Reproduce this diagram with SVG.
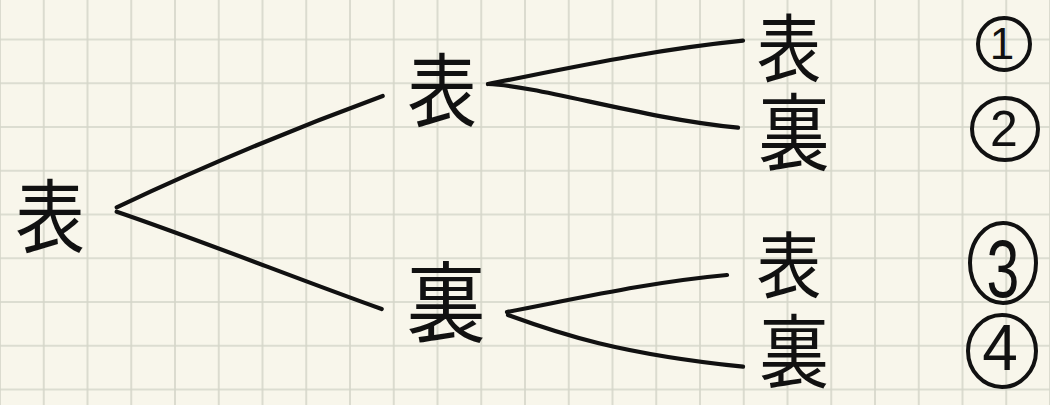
<svg xmlns="http://www.w3.org/2000/svg" width="1050" height="405" viewBox="0 0 1050 405">
  <style>
    .kanji { font-family: "Noto Sans CJK JP", "Noto Sans CJK SC", sans-serif; fill: #111; text-anchor: middle; }
    .num { font-family: "Liberation Sans", "DejaVu Sans", sans-serif; fill: #111; text-anchor: middle; }
    .ring { fill: none; stroke: #111; stroke-width: 4; }
    .edge { fill: none; stroke: #111; stroke-width: 4.2; stroke-linecap: round; stroke-linejoin: round; }
  </style>
  <defs>
    <pattern id="grid" patternUnits="userSpaceOnUse" x="-21.875" y="17.625" width="43.75" height="43.75">
      <path d="M21.875,0 V43.75 M0,21.875 H43.75" stroke="#d4d5c9" stroke-width="1.6" fill="none"/>
    </pattern>
  </defs>
  <rect x="0" y="0" width="1050" height="405" fill="#f8f6eb"/>
  <rect x="0" y="0" width="1050" height="405" fill="url(#grid)"/>

  <g id="connectors">
    <path class="edge" d="M116.7,207.3 C200,168 290,130 382.7,96"/>
    <path class="edge" d="M116.7,211.7 C200,240 300,280 381.7,309"/>
    <path class="edge" d="M488,84 C560,70 650,50 743,40.7"/>
    <path class="edge" d="M488,84 C540,86 640,118 738,127.7"/>
    <path class="edge" d="M507,312 C580,298 650,282 727,275"/>
    <path class="edge" d="M508,315 C560,334 620,354 743,366.7"/>
  </g>

  <g id="root"><text class="kanji" transform="translate(50,246) scale(0.87,1)" font-size="80">表</text></g>
  <g id="mid-omote"><text class="kanji" transform="translate(442,120) scale(0.87,1)" font-size="80">表</text></g>
  <g id="mid-ura"><text class="kanji" transform="translate(446,335) scale(0.9,1)" font-size="88">裏</text></g>
  <g id="leaf1"><text class="kanji" transform="translate(789,76) scale(0.87,1)" font-size="74">表</text></g>
  <g id="leaf2"><text class="kanji" transform="translate(794,164) scale(0.85,1)" font-size="84">裏</text></g>
  <g id="leaf3"><text class="kanji" transform="translate(789,292) scale(0.9,1)" font-size="72">表</text></g>
  <g id="leaf4"><text class="kanji" transform="translate(794,381) scale(0.87,1)" font-size="80">裏</text></g>

  <g id="label1">
    <ellipse class="ring" cx="1004" cy="44" rx="26" ry="26"/>
    <text class="num" x="1002" y="59" font-size="44">1</text>
  </g>
  <g id="label2">
    <ellipse class="ring" cx="1005" cy="129" rx="33" ry="31"/>
    <text class="num" x="1004" y="146" font-size="50">2</text>
  </g>
  <g id="label3">
    <ellipse class="ring" cx="1003" cy="263" rx="33" ry="40"/>
    <text class="num" transform="translate(1003,297) scale(0.72,1)" font-size="82">3</text>
  </g>
  <g id="label4">
    <ellipse class="ring" cx="1002" cy="351" rx="34" ry="36"/>
    <text class="num" x="1000" y="370" font-size="64">4</text>
  </g>
</svg>
